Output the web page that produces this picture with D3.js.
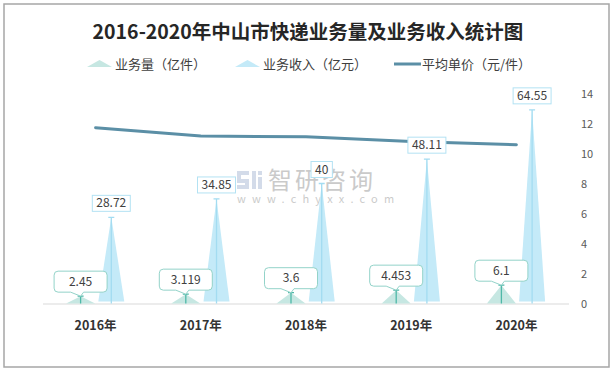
<!DOCTYPE html>
<html>
<head>
<meta charset="utf-8">
<script src="https://cdn.jsdelivr.net/npm/d3@7"></script>
<style>
  body { margin: 0; background: #fff; }
  svg { display: block; font-family: "Microsoft YaHei", "Noto Sans CJK SC", sans-serif; }
</style>
</head>
<body>
<svg id="chart" width="614" height="371"></svg>
<script>
// Data
const years = ["2016年", "2017年", "2018年", "2019年", "2020年"];
const volume = [2.45, 3.119, 3.6, 4.453, 6.1];          // 业务量（亿件）
const revenue = [28.72, 34.85, 40, 48.11, 64.55];      // 业务收入（亿元）
const unitPrice = [11.72, 11.17, 11.11, 10.80, 10.58]; // 平均单价（元/件）
const rightTicks = [0, 2, 4, 6, 8, 10, 12, 14];

const title = "2016-2020年中山市快递业务量及业务收入统计图";
const legendNames = ["业务量（亿件）", "业务收入（亿元）", "平均单价（元/件）"];

// Configs
const configs = {
    plot: { left: 43, right: 569, top: 93.5, bottom: 303.5 },
    volFill: "#c6e7e2",
    volStroke: "#4fb8a8",
    volBox: "#93d3c9",
    revFill: "#c4eaf8",
    revStroke: "#a3dcf1",
    revBox: "#b3e2f3",
    lineColor: "#5b8fa6",
    text: "#404040"
};

const svg = d3.select("#chart");
const p = configs.plot;

// Scales
const x = d3.scaleBand().domain(years).range([p.left, p.right]);
const yLeft = d3.scaleLinear().domain([0, 70]).range([p.bottom, p.top]);
const yRight = d3.scaleLinear().domain([0, 14]).range([p.bottom, p.top]);
const cx = d => x(d) + x.bandwidth() / 2;

// Border
svg.append("rect")
    .attr("x", 4).attr("y", 4).attr("width", 605).attr("height", 363)
    .attr("fill", "#fff").attr("stroke", "#a6a6a6").attr("stroke-width", 1.5);

// Title
svg.append("text")
    .attr("x", 308).attr("y", 39)
    .attr("text-anchor", "middle")
    .attr("font-size", 19.5).attr("font-weight", 700)
    .attr("fill", "#262626")
    .text(title);

// Legend
const lg = svg.append("g");
lg.append("path").attr("d", "M87,67 L99.5,60 L112,67 Z").attr("fill", configs.volFill);
lg.append("text").attr("x", 115).attr("y", 68.5).attr("font-size", 13).attr("fill", configs.text).text(legendNames[0]);
lg.append("path").attr("d", "M235,67 L247.5,60 L260,67 Z").attr("fill", configs.revFill);
lg.append("text").attr("x", 263).attr("y", 68.5).attr("font-size", 13).attr("fill", configs.text).text(legendNames[1]);
lg.append("line").attr("x1", 394).attr("x2", 421).attr("y1", 64).attr("y2", 64)
    .attr("stroke", configs.lineColor).attr("stroke-width", 3);
lg.append("text").attr("x", 422).attr("y", 68.5).attr("font-size", 13).attr("fill", configs.text).text(legendNames[2]);

// Watermark (sits behind the marks)
const wm = svg.append("g").attr("opacity", 0.45);
wm.append("path").attr("d", "M237,171 h12 v4 h-8 v4 h8 v10 h-12 v-4 h8 v-2 h-8 Z").attr("fill", "#9fb0cf");
wm.append("path").attr("d", "M252,171 h4 v18 h-4 Z M258,171 h4 v4 h-4 Z M258,177 h4 v12 h-4 Z").attr("fill", "#9fb0cf");
wm.append("text").attr("x", 268).attr("y", 189).attr("font-size", 24).attr("fill", "#8c8c8c")
    .attr("letter-spacing", 3).text("智研咨询");
wm.append("text").attr("x", 237).attr("y", 203).attr("font-size", 11).attr("fill", "#8c8c8c")
    .attr("letter-spacing", 6.2).text("www.chyxx.com");

// X axis
svg.append("line")
    .attr("x1", p.left).attr("x2", p.right)
    .attr("y1", 304).attr("y2", 304)
    .attr("stroke", "#d9d9d9").attr("stroke-width", 1.2);

svg.append("g").selectAll("text")
    .data(years).join("text")
    .attr("x", d => cx(d)).attr("y", 330)
    .attr("text-anchor", "middle")
    .attr("font-size", 12.5).attr("font-weight", 700)
    .attr("fill", "#333")
    .text(d => d);

// Right axis
const ra = svg.append("g")
    .attr("transform", `translate(581,0)`)
    .call(d3.axisRight(yRight).tickValues(rightTicks).tickSize(0).tickPadding(0));
ra.select(".domain").remove();
ra.selectAll("text")
    .attr("font-size", 11)
    .attr("font-family", "\"Microsoft YaHei\", \"Noto Sans CJK SC\", sans-serif")
    .attr("fill", "#595959");

// Volume triangles
const volOff = -15, volHalf = 14.5;
const vol = svg.append("g");
vol.selectAll("path.tri")
    .data(years).join("path")
    .attr("class", "tri")
    .attr("fill", configs.volFill)
    .attr("d", (d, i) => {
        const c = cx(d) + volOff;
        return `M${c - volHalf},${yLeft(0)} L${c},${yLeft(volume[i])} L${c + volHalf},${yLeft(0)} Z`;
    });
vol.selectAll("path.stem")
    .data(years).join("path")
    .attr("class", "stem")
    .attr("fill", "none").attr("stroke", configs.volStroke).attr("stroke-width", 1.3)
    .attr("d", (d, i) => {
        const c = cx(d) + volOff, t = yLeft(volume[i]);
        return `M${c - 3},${t} H${c + 3} M${c},${t} V${yLeft(0)}`;
    });

// Revenue triangles
const revOff = 15.7, revHalf = 13;
const rev = svg.append("g");
rev.selectAll("path.tri")
    .data(years).join("path")
    .attr("class", "tri")
    .attr("fill", configs.revFill)
    .attr("d", (d, i) => {
        const c = cx(d) + revOff, b = yLeft(0) - 2;
        return `M${c - revHalf},${b} L${c},${yLeft(revenue[i])} L${c + revHalf},${b} Z`;
    });
rev.selectAll("path.stem")
    .data(years).join("path")
    .attr("class", "stem")
    .attr("fill", "none").attr("stroke", configs.revStroke).attr("stroke-width", 1.3)
    .attr("d", (d, i) => {
        const c = cx(d) + revOff, t = yLeft(revenue[i]);
        return `M${c - 3},${t} H${c + 3} M${c},${t} V${yLeft(0)}`;
    });

// Average price line
svg.append("path")
    .datum(unitPrice)
    .attr("fill", "none")
    .attr("stroke", configs.lineColor)
    .attr("stroke-width", 3)
    .attr("stroke-linecap", "round")
    .attr("d", d3.line().x((d, i) => cx(years[i])).y(d => yRight(d)));

// Volume callout labels
const volLabels = svg.append("g");
years.forEach((d, i) => {
    const c = cx(d) + volOff, t = yLeft(volume[i]);
    const w = 53, h = 21, r = 4;
    const l = c - w / 2, rr = c + w / 2, b = t - 4, top = b - h;
    const path = `M${l + r},${top} H${rr - r} Q${rr},${top} ${rr},${top + r} V${b - r} Q${rr},${b} ${rr - r},${b}`
        + ` H${c + 3} L${c},${t} L${c - 10},${b} H${l + r} Q${l},${b} ${l},${b - r} V${top + r} Q${l},${top} ${l + r},${top} Z`;
    volLabels.append("path").attr("d", path)
        .attr("fill", "#fff").attr("stroke", configs.volBox).attr("stroke-width", 1);
    volLabels.append("text")
        .attr("x", c).attr("y", top + h / 2 + 4)
        .attr("text-anchor", "middle").attr("font-size", 12).attr("fill", configs.text)
        .text(volume[i]);
});

// Revenue box labels
const revLabels = svg.append("g");
years.forEach((d, i) => {
    const c = cx(d) + revOff, t = yLeft(revenue[i]);
    const txt = revLabels.append("text")
        .attr("x", c).attr("y", t - 10)
        .attr("text-anchor", "middle").attr("font-size", 12).attr("fill", configs.text)
        .text(revenue[i]);
    const w = txt.node().getComputedTextLength() + 8, h = 16;
    revLabels.insert("rect", "text")
        .attr("x", c - w / 2).attr("y", t - 6 - h)
        .attr("width", w).attr("height", h)
        .attr("fill", "#fff").attr("stroke", configs.revBox).attr("stroke-width", 1);
});
</script>
</body>
</html>
